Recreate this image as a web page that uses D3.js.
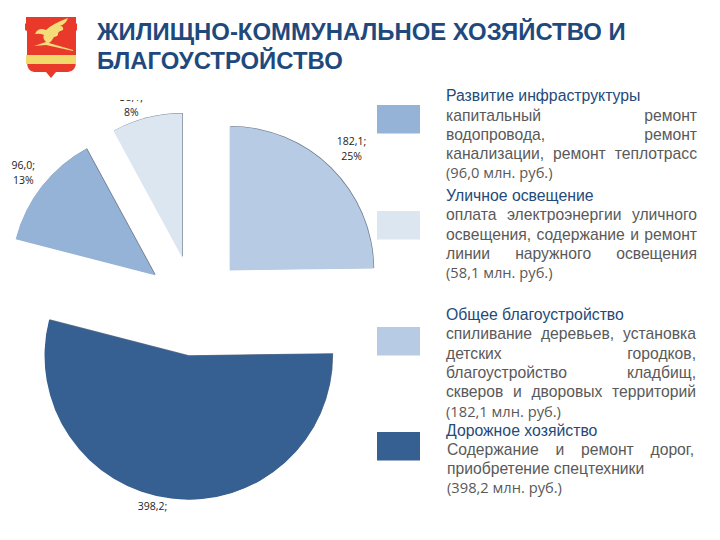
<!DOCTYPE html>
<html>
<head>
<meta charset="utf-8">
<script src="https://cdn.jsdelivr.net/npm/d3@7"></script>
<style>
  html, body { margin: 0; padding: 0; background: #fff; }
  svg { display: block; }
</style>
</head>
<body>
<script>
// data
const categories = ["Общее благоустройство", "Дорожное хозяйство", "Развитие инфраструктуры", "Уличное освещение"];
const values = [182.1, 398.2, 96.0, 58.1];
const colors = ["#b7cce4", "#366092", "#95b3d7", "#dce6f1"];

const titleLines = ["ЖИЛИЩНО-КОММУНАЛЬНОЕ ХОЗЯЙСТВО И", "БЛАГОУСТРОЙСТВО"];

// legend blocks in page order, the last line of each is the amount
const legendOrder = [2, 3, 0, 1];
const legendText = [
  ["капитальный ремонт", "водопровода, ремонт", "канализации, ремонт теплотрасс", "(96,0 млн. руб.)"],
  ["оплата электроэнергии уличного", "освещения, содержание и ремонт", "линии наружного освещения", "(58,1 млн. руб.)"],
  ["спиливание деревьев, установка", "детских городков,", "благоустройство кладбищ,", "скверов и дворовых территорий", "(182,1 млн. руб.)"],
  ["Содержание и ремонт дорог,", "приобретение спецтехники", "(398,2 млн. руб.)"]
];

const w = 720
const h = 540

const svg = d3.select("body")
  .append("svg")
  .attr("width", w)
  .attr("height", h)

// emblem
const emblem = svg.append("g")
emblem.append("path")
  .attr("d", "M26 17H76V23L77 24V30L76 31V62Q76 71 68 72H56L51 78L46 72H34Q27 71 27 62V31L25 30V24L26 23Z")
  .attr("fill", "#e8392a")
emblem.append("rect").attr("x", 26).attr("y", 55).attr("width", 50).attr("height", 9).attr("fill", "#f2d96b")
emblem.append("path")
  .attr("d", "M35 34Q38 27 46 30Q52 24 68 18Q66 24 60 26Q64 26 63 30Q59 31 58 33Q59 36 54 37Q52 41 49 43L73 50V51L46 45L34 46L46 42Q42 38 44 35Q40 33 35 34Z")
  .attr("fill", "#f4dc7a")

// title
svg.selectAll("text.title")
  .data(titleLines)
  .enter()
  .append("text")
  .attr("class", "title")
  .attr("x", 97)
  .attr("y", (d, i) => 40 + i * 29)
  .attr("font-family", "'Liberation Sans', Arial, sans-serif")
  .attr("font-weight", "bold")
  .attr("font-size", "23.9px")
  .attr("fill", "#1f497d")
  .text(d => d)

// pie
const radius = 144
const explode = 50
const cx = 194.5
const cy = 306

const total = d3.sum(values)
const pie = d3.pie().sort(null)
const arcs = pie(values)
const arc = d3.arc().innerRadius(0).outerRadius(radius)

const midAngle = d => (d.startAngle + d.endAngle) / 2
const shiftX = (d, r) => Math.sin(midAngle(d)) * r
const shiftY = (d, r) => -Math.cos(midAngle(d)) * r

const slices = svg.append("g").attr("transform", `translate(${cx},${cy})`)

// thin dark edge on the upper right side of every slice
slices.selectAll("path.edge")
  .data(arcs)
  .enter()
  .append("path")
  .attr("class", "edge")
  .attr("d", arc)
  .attr("transform", d => `translate(${shiftX(d, explode) + 0.6},${shiftY(d, explode) - 0.5})`)
  .attr("fill", "#1d2f4a")
  .attr("opacity", 0.65)

slices.selectAll("path.slice")
  .data(arcs)
  .enter()
  .append("path")
  .attr("class", "slice")
  .attr("d", arc)
  .attr("transform", d => `translate(${shiftX(d, explode)},${shiftY(d, explode)})`)
  .attr("fill", (d, i) => colors[i])

// labels are cut by the chart frame, as in the picture
svg.append("clipPath")
  .attr("id", "frame")
  .append("rect")
  .attr("x", 0)
  .attr("y", 100)
  .attr("width", 400)
  .attr("height", 413.5)

const labelRadius = [175, 167, 166, 162]
const labelNudge = [[-1, 1], [-16, -9], [-1, -2], [-11, 2]]
const labelFormat = d3.format(".1f")

const labels = svg.append("g")
  .attr("clip-path", "url(#frame)")
  .selectAll("text")
  .data(arcs)
  .enter()
  .append("text")
  .attr("text-anchor", "middle")
  .attr("font-family", "'Open Sans', sans-serif")
  .attr("font-size", "10.5px")
  .attr("fill", "#222")
  .attr("transform", (d, i) => {
    const x = cx + shiftX(d, explode) + shiftX(d, labelRadius[i]) + labelNudge[i][0]
    const y = cy + shiftY(d, explode) + shiftY(d, labelRadius[i]) + labelNudge[i][1]
    return `translate(${x},${y})`
  })

labels.append("tspan")
  .attr("x", 0)
  .attr("y", -2)
  .text(d => labelFormat(d.value).replace(".", ",") + ";")

labels.append("tspan")
  .attr("x", 0)
  .attr("y", 13)
  .text(d => Math.round(d.value / total * 100) + "%")

// legend
const swatchY = [105, 211, 327, 432]
const headY = [101, 201, 320, 436]
const lineY = [
  [121, 140, 159, 178],
  [220, 240, 259, 278],
  [339, 359, 378, 397, 417],
  [455, 474, 493]
]
const rightEdge = [697, 697, 696, 694]
const leftEdge = [446, 446, 446, 447]
const justified = [[0, 1, 2], [0, 1, 2], [0, 1, 2, 3], [0]]

legendOrder.forEach((c, k) => {
  svg.append("rect")
    .attr("x", 377)
    .attr("y", swatchY[k])
    .attr("width", 43)
    .attr("height", 28.5)
    .attr("fill", colors[c])

  svg.append("text")
    .attr("x", 446)
    .attr("y", headY[k])
    .attr("font-family", "'Liberation Sans', sans-serif")
    .attr("font-size", "15.8px")
    .attr("fill", "#254a78")
    .text(categories[c])

  legendText[k].forEach((line, i) => {
    const last = i === legendText[k].length - 1
    const t = svg.append("text")
      .attr("x", leftEdge[k])
      .attr("y", lineY[k][i])
      .attr("font-family", last ? "'Open Sans', sans-serif" : "'Liberation Sans', sans-serif")
      .attr("font-size", last ? "14.7px" : "15.7px")
      .attr("fill", "#595959")
      .text(line)

    // stretch the word gaps so the line fills the column
    if (justified[k].includes(i)) {
      const gaps = line.split(" ").length - 1
      const free = rightEdge[k] - leftEdge[k] - t.node().getComputedTextLength()
      t.attr("word-spacing", free / gaps)
    }
  })
})
</script>
</body>
</html>
